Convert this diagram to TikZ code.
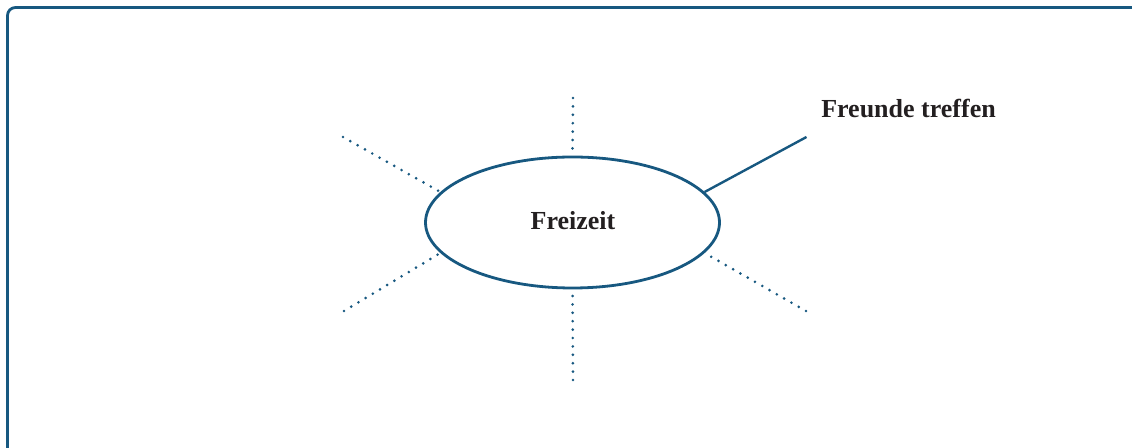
\documentclass[tikz,border=0pt]{standalone}
\usepackage{fontspec}
\setmainfont{Liberation Serif}
\usetikzlibrary{shapes.geometric}
\definecolor{frameblue}{RGB}{23,88,128}
\definecolor{txt}{RGB}{35,31,32}
\tikzset{
  bubble/.style={draw=frameblue, line width=2.1pt, ellipse, minimum width=220.5pt, minimum height=98.25pt, inner sep=0pt, text=txt, font=\bfseries\fontsize{19.5}{22}\selectfont},
  dotline/.style={draw=frameblue, line width=2.2pt, line cap=round, dash pattern=on 0pt off 6.3pt},
  solidline/.style={draw=frameblue, line width=1.8pt},
  frame/.style={draw=frameblue, line width=2.1pt, rounded corners=6pt},
  lbl/.style={text=txt, font=\bfseries\fontsize{19.5}{22}\selectfont, inner sep=0pt, anchor=base west}
}
\begin{document}
\begin{tikzpicture}[x=0.75pt,y=-0.75pt]
\useasboundingbox (0,0) rectangle (1132,448);
\draw[frame] (7.5,7.5) rectangle (1160,470);
\node[bubble] (c) at (572.5,222.5) {};
\node[text=txt, font=\bfseries\fontsize{19.5}{22}\selectfont, inner sep=0pt, anchor=base] (ct) at (573,229.5) {Freizeit};
\coordinate (top) at (573,98);
\coordinate (bot) at (573,380);
\coordinate (ul) at (343,137);
\coordinate (ll) at (344,311);
\coordinate (lr) at (806,311);
\coordinate (ur) at (806.5,137);
\draw[dotline] (top) -- (c.90);
\draw[dotline] (bot) -- (c.-90);
\draw[dotline] (ul) -- (c.167);
\draw[dotline] (ll) -- (c.193);
\draw[dotline] (lr) -- (c.-13);
\draw[solidline] (ur) -- (c.13);
\node[lbl] (ft) at (821,118) {Freunde treffen};
\end{tikzpicture}
\end{document}
